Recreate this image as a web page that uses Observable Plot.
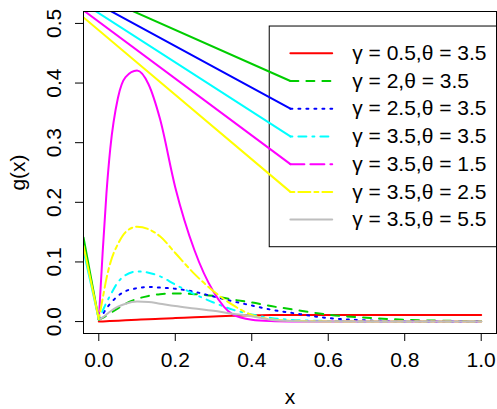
<!DOCTYPE html>
<html>
<head>
<meta charset="utf-8">
<script src="https://cdn.jsdelivr.net/npm/d3@7"></script>
<script src="https://cdn.jsdelivr.net/npm/@observablehq/plot@0.6"></script>
<style>
  html, body { margin: 0; padding: 0; background: white; }
  #chart svg { display: block; }
</style>
</head>
<body>
<div id="chart"></div>
<script>
// ---- data ----
const xGrid    = [0, 0.01, 0.02, 0.03, 0.05, 0.07, 0.10, 0.13, 0.16, 0.20, 0.25, 0.30, 0.35, 0.40, 0.45, 0.50, 0.60, 0.70, 0.80, 0.90, 1.00];
const gRed     = [0, 0.0003, 0.0006, 0.0009, 0.0015, 0.0021, 0.003, 0.0039, 0.0047, 0.0058, 0.0072, 0.0085, 0.0097, 0.0106, 0.0112, 0.0112, 0.0112, 0.0112, 0.0112, 0.0112, 0.0112];
const gGreen   = [0.003, 0.006, 0.010, 0.014, 0.022, 0.030, 0.038, 0.043, 0.046, 0.047, 0.046, 0.043, 0.037, 0.032, 0.026, 0.021, 0.0115, 0.0065, 0.003, 0.0015, 0.0007];
const gBlue    = [0.004, 0.012, 0.022, 0.030, 0.043, 0.051, 0.056, 0.058, 0.057, 0.055, 0.050, 0.042, 0.034, 0.027, 0.020, 0.015, 0.006, 0.002, 0.0005, 0.0001, 0];
const gCyan    = [0.004, 0.018, 0.032, 0.044, 0.066, 0.078, 0.084, 0.082, 0.076, 0.062, 0.046, 0.032, 0.020, 0.012, 0.006, 0.003, 0.001, 0.0002, 0, 0, 0];
const gMagenta = [0.003, 0.115, 0.215, 0.290, 0.375, 0.410, 0.421, 0.398, 0.340, 0.225, 0.120, 0.050, 0.012, 0.003, 0.0008, 0.0002, 0, 0, 0, 0, 0];
const gYellow  = [0.004, 0.038, 0.072, 0.098, 0.130, 0.150, 0.159, 0.155, 0.143, 0.115, 0.080, 0.051, 0.028, 0.011, 0.004, 0.0015, 0.0003, 0, 0, 0, 0];
const gGray    = [0.003, 0.007, 0.012, 0.017, 0.025, 0.030, 0.0335, 0.033, 0.030, 0.026, 0.022, 0.018, 0.013, 0.009, 0.003, 0.001, 0, 0, 0, 0, 0];

const seriesValues = [gRed, gGreen, gBlue, gCyan, gMagenta, gYellow, gGray];
const seriesLabels = ["γ = 0.5,θ = 3.5", "γ = 2,θ = 3.5", "γ = 2.5,θ = 3.5", "γ = 3.5,θ = 3.5", "γ = 3.5,θ = 1.5", "γ = 3.5,θ = 2.5", "γ = 3.5,θ = 5.5"];
// stray straight segments seen in the reference
const leadInY   = [null, 0.141, null, 0.119, null, 0.127, null];   // value at x = -0.04 joining to the curve start
const strayFrom = [-0.225, 0.61];                                    // common far-left point of the straight lines
const hasStray  = [false, true, true, true, true, true, false];

const xTicks = [0, 0.2, 0.4, 0.6, 0.8, 1.0];
const yTicks = [0, 0.1, 0.2, 0.3, 0.4, 0.5];

// ---- styles ----
const colors  = ["#FF0000", "#00CD00", "#0000FF", "#00FFFF", "#FF00FF", "#FFFF00", "#BEBEBE"];
const curveDash  = [null, "8,8", "2,6", "2,6,8,6", null, "4,4,12,4", null];
const legendDash = [null, "8,8", "2,6", "2,6,8,6", "14,6", "4,4,12,4", null];

// legend layout (user coordinates, like R's legend)
const legX0 = 0.447, legX1 = 1.2, legY0 = 0.1247, legY1 = 0.4948;
const sampleX1 = 0.501, sampleX2 = 0.6104, textX = 0.6627;
const rowTop = 0.450, rowStep = 0.0465;
const rowY = seriesLabels.map((_, i) => rowTop - i * rowStep);

const FONT = 21;
const marks = [];

// legend box
marks.push(Plot.rect([0], {x1: legX0, x2: legX1, y1: legY0, y2: legY1, fill: "white", stroke: "black", strokeWidth: 1, clip: true}));

// curves
seriesValues.forEach((vals, i) => {
  const pts = xGrid.map((x, j) => ({x, y: vals[j]}));
  marks.push(Plot.line(pts, {x: "x", y: "y", stroke: colors[i], strokeWidth: 2,
    strokeDasharray: curveDash[i] || undefined, strokeLinecap: "round", strokeLinejoin: "round",
    curve: "monotone-x", clip: true}));
});

// lead-in segments and stray straight lines (solid)
seriesValues.forEach((vals, i) => {
  if (leadInY[i] != null) {
    marks.push(Plot.line([{x: -0.04, y: leadInY[i]}, {x: xGrid[0], y: vals[0]}],
      {x: "x", y: "y", stroke: colors[i], strokeWidth: 2, strokeLinecap: "round", clip: true}));
  }
  if (hasStray[i]) {
    marks.push(Plot.line([{x: strayFrom[0], y: strayFrom[1]}, {x: sampleX1, y: rowY[i]}],
      {x: "x", y: "y", stroke: colors[i], strokeWidth: 2, strokeLinecap: "round", clip: true}));
  }
});

// legend samples + text
seriesLabels.forEach((lab, i) => {
  marks.push(Plot.line([{x: sampleX1, y: rowY[i]}, {x: sampleX2, y: rowY[i]}],
    {x: "x", y: "y", stroke: colors[i], strokeWidth: 2, strokeDasharray: legendDash[i] || undefined,
     strokeLinecap: "round"}));
});
marks.push(Plot.text(seriesLabels, {x: () => textX, y: (d, i) => rowY[i], text: d => d,
  textAnchor: "start", lineAnchor: "middle", fontSize: FONT, fill: "black"}));

// frame & axes
marks.push(Plot.frame({stroke: "black", strokeWidth: 1}));
marks.push(Plot.axisX(xTicks, {anchor: "bottom", tickSize: 8, tickPadding: 11, fontSize: FONT,
  tickFormat: d3.format(".1f"), label: null, stroke: "black", color: "black"}));
marks.push(Plot.axisY(yTicks, {anchor: "left", tickSize: 8, tickPadding: 21, fontSize: FONT,
  tickRotate: -90, textAnchor: "middle", lineAnchor: "middle",
  tickFormat: d3.format(".1f"), label: null, stroke: "black", color: "black"}));
marks.push(Plot.text(["x"], {frameAnchor: "bottom", dy: 64, lineAnchor: "middle", fontSize: FONT, fill: "black"}));
marks.push(Plot.text(["g(x)"], {frameAnchor: "left", dx: -65, rotate: -90, lineAnchor: "middle", textAnchor: "middle", fontSize: FONT, fill: "black"}));

const chart = Plot.plot({
  width: 497, height: 409,
  marginLeft: 83, marginRight: 1, marginTop: 11, marginBottom: 76,
  x: {domain: [-0.04, 1.04]},
  y: {domain: [-0.02, 0.52]},
  style: {fontFamily: "'Liberation Sans', Arial, sans-serif", background: "white", color: "black", overflow: "hidden"},
  marks
});
document.getElementById("chart").appendChild(chart);
</script>
</body>
</html>
